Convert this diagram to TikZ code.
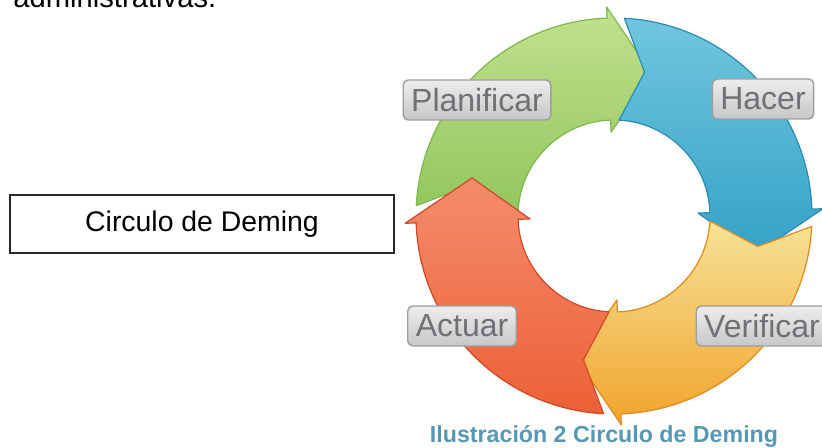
\documentclass[tikz,border=0pt]{standalone}
\usepackage{fontspec}
\setmainfont{Liberation Sans}
\definecolor{grnTop}{RGB}{194,225,142}
\definecolor{grnBot}{RGB}{146,198,92}
\definecolor{grnEdge}{RGB}{128,182,78}
\definecolor{bluTop}{RGB}{112,198,222}
\definecolor{bluBot}{RGB}{52,162,198}
\definecolor{bluEdge}{RGB}{44,140,176}
\definecolor{ylwTop}{RGB}{246,226,150}
\definecolor{ylwBot}{RGB}{241,164,44}
\definecolor{ylwEdge}{RGB}{226,138,34}
\definecolor{redTop}{RGB}{244,140,108}
\definecolor{redBot}{RGB}{236,96,54}
\definecolor{redEdge}{RGB}{208,72,40}
\definecolor{tagText}{RGB}{112,112,118}
\definecolor{capBlue}{RGB}{86,152,180}
\usetikzlibrary{calc}
\tikzset{
  stage/.style={draw=black!38, rounded corners=2.5pt, line width=0.7pt,
              top color=black!7, bottom color=black!22, text=tagText,
              inner xsep=4pt, inner ysep=0pt, minimum height=20pt,
              font=\fontsize{16}{18}\selectfont},
  titlebox/.style={draw=black!85, line width=0.8pt, minimum width=192pt,
              minimum height=29pt, font=\fontsize{14.2}{17}\selectfont},
  petal/.style={line width=0.6pt, line join=round},
}
% one curved arrow of the cycle: tail angle, style
\newcommand{\pdcarrow}[2]{%
  \pgfmathsetmacro{\pdbase}{#1-85}%
  \pgfmathsetmacro{\pdtip}{#1-102}%
  \pgfmathsetmacro{\pdnotch}{#1-9}%
  \path[petal,#2] (#1:198) arc[start angle=#1, end angle=\pdbase, radius=198]
    -- (\pdbase:209) -- (\pdtip:147) -- (\pdbase:84) -- (\pdbase:96)
    arc[start angle=\pdbase, end angle=#1, radius=96] -- (\pdnotch:147) -- cycle;
}
\begin{document}
\begin{tikzpicture}[x=0.5pt,y=-0.5pt]
        \useasboundingbox (0,0) rectangle (822,448);
        \begin{scope}
          \clip (0,0) rectangle (822,448);
          \node[anchor=base west,inner sep=0pt,font=\fontsize{14.6}{17}\selectfont] (prev) at (13,7.5) {administrativas.};
        \end{scope}
        \node[titlebox] (title) at (202,224) {Circulo de Deming};
        \coordinate (ctr) at (614,216);
        \begin{scope}[shift={(ctr)},y=0.5pt]
          \pdcarrow{177}{draw=grnEdge,top color=grnTop,bottom color=grnBot}
          \pdcarrow{87}{draw=bluEdge,top color=bluTop,bottom color=bluBot}
          \pdcarrow{-3}{draw=ylwEdge,top color=ylwTop,bottom color=ylwBot}
          \pdcarrow{-93}{draw=redEdge,top color=redTop,bottom color=redBot}
        \end{scope}
        \node[stage] (plan) at (477,100) {Planificar};
        \node[stage] (hacer) at (763,99) {Hacer};
        \node[stage] (actuar) at (462,326) {Actuar};
        \begin{scope}
          \clip (0,0) rectangle (822,448);
          \node[stage] (verif) at (762,326) {Verificar};
        \end{scope}
        \node[font=\fontsize{11.6}{14}\selectfont\bfseries,text=capBlue] (cap) at (604,436) {Ilustración 2 Circulo de Deming};
      \end{tikzpicture}
\end{document}
